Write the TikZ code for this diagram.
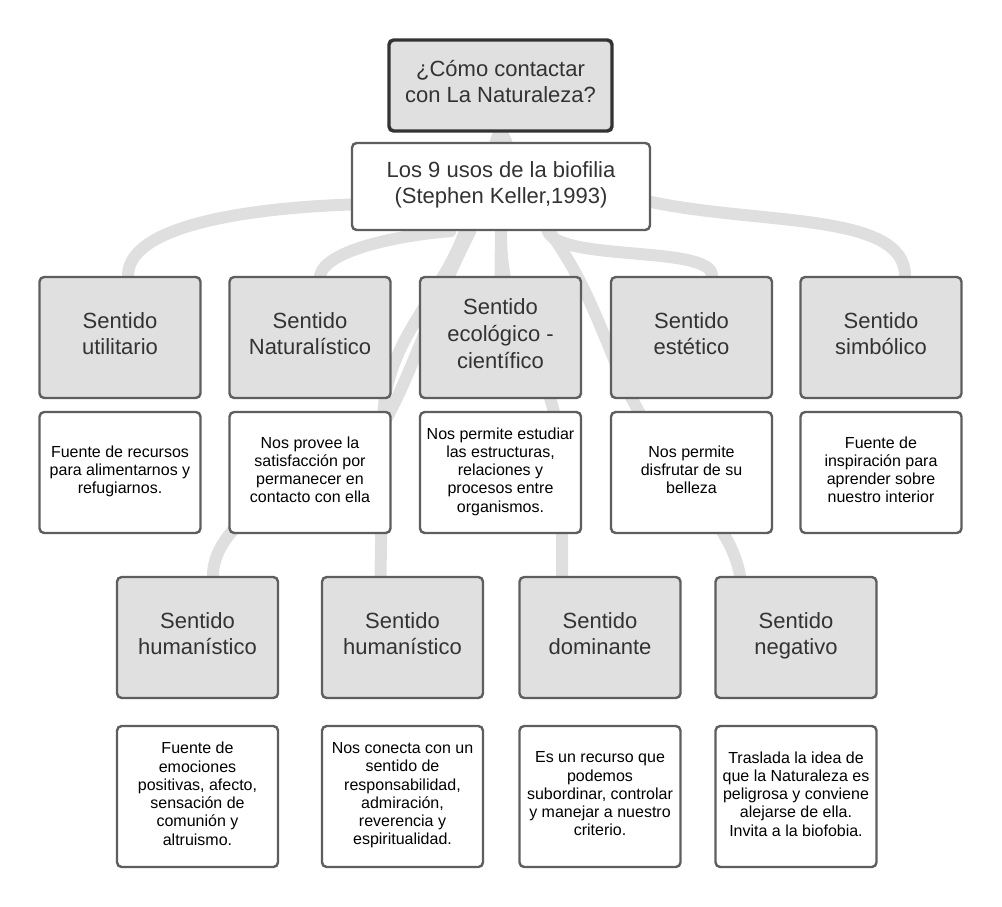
\documentclass[tikz,border=0pt]{standalone}
\usepackage{fontspec}
\setmainfont{Liberation Sans}
\usepackage{tikz}
\usetikzlibrary{backgrounds}
\definecolor{boxgray}{HTML}{E0E0E0}
\definecolor{linegray}{HTML}{DFDFDF}
\definecolor{edgegray}{HTML}{5E5E5E}
\definecolor{textgray}{HTML}{333333}
\tikzset{
  titlebox/.style={draw=edgegray, line width=1.8pt, rounded corners=3.5pt, fill=boxgray,
    minimum width=120.75pt, minimum height=90.75pt, align=center, text=textgray,
    font=\fontsize{16.5}{20}\selectfont,
    execute at begin node=\strut, execute at end node=\strut},
  descbox/.style={draw=edgegray, line width=1.8pt, rounded corners=3.5pt, fill=white,
    minimum width=120.75pt, minimum height=90.75pt, align=center, inner sep=2pt,
    font=\fontsize{12}{13.7}\selectfont,
    execute at begin node=\strut, execute at end node=\strut},
  link/.style={draw=linegray, line width=9pt, line cap=round}
}

\begin{document}
\begin{tikzpicture}[x=0.75pt,y=-0.75pt]
\useasboundingbox (0,0) rectangle (1002,906);

\node[titlebox, draw=textgray, line width=2.6pt, minimum width=167.25pt, minimum height=68.25pt] (top) at (500.5,85.5) {¿Cómo contactar\\con La Naturaleza?};
\node[titlebox, fill=white, minimum width=223.5pt, minimum height=65.25pt] (usos) at (501,186.5) {Los 9 usos de la biofilia\\(Stephen Keller,1993)};

\node[titlebox] (uti) at (120,337.5) {Sentido\\utilitario};
\node[titlebox] (nat) at (310,337.5) {Sentido\\Naturalístico};
\node[titlebox] (eco) at (500.5,337.5) {Sentido\\ecológico -\\científico};
\node[titlebox] (est) at (691.5,337.5) {Sentido\\estético};
\node[titlebox] (sim) at (881,337.5) {Sentido\\simbólico};

\node[descbox] (uti-d) at (120,472.5) {Fuente de recursos\\para alimentarnos y\\refugiarnos.};
\node[descbox] (nat-d) at (310,472.5) {Nos provee la\\satisfacción por\\permanecer en\\contacto con ella};
\node[descbox] (eco-d) at (500.5,472.5) {Nos permite estudiar\\las estructuras,\\relaciones y\\procesos entre\\organismos.};
\node[descbox] (est-d) at (691.5,472.5) {Nos permite\\disfrutar de su\\belleza};
\node[descbox] (sim-d) at (881,472.5) {Fuente de\\inspiración para\\aprender sobre\\nuestro interior};

\node[titlebox] (hum1) at (197.5,637.5) {Sentido\\humanístico};
\node[titlebox] (hum2) at (402.5,637.5) {Sentido\\humanístico};
\node[titlebox] (dom) at (600,637.5) {Sentido\\dominante};
\node[titlebox] (neg) at (796,637.5) {Sentido\\negativo};

\node[descbox, minimum height=105.75pt] (hum1-d) at (197.5,796.5) {Fuente de\\emociones\\positivas, afecto,\\sensación de\\comunión y\\altruismo.};
\node[descbox, minimum height=105.75pt] (hum2-d) at (402.5,796.5) {Nos conecta con un\\sentido de\\responsabilidad,\\admiración,\\reverencia y\\espiritualidad.};
\node[descbox, minimum height=105.75pt] (dom-d) at (600,796.5) {Es un recurso que\\podemos\\subordinar, controlar\\y manejar a nuestro\\criterio.};
\node[descbox, minimum height=105.75pt] (neg-d) at (796,796.5) {Traslada la idea de\\que la Naturaleza es\\peligrosa y conviene\\alejarse de ella.\\Invita a la biofobia.};

\begin{scope}[on background layer]
\draw[link] ([xshift=-1pt]top.south) -- ([xshift=-4pt]usos.north);
\draw[link] ([xshift=1pt]top.south) -- ([xshift=4pt]usos.north);
\draw[link] ([yshift=-13.5pt]usos.west) .. controls (250,208) and (128,225) .. ([xshift=6pt]uti.north);
\draw[link] ([xshift=-38pt]usos.south) .. controls (400,235) and (325,250) .. ([xshift=7.5pt]nat.north);
\draw[link] (usos.south) -- (eco.north);
\draw[link] ([xshift=35pt]usos.south) .. controls (560,262) and (712,245) .. ([xshift=15.4pt]est.north);
\draw[link] ([yshift=-11.6pt]usos.east) .. controls (760,225) and (905,212) .. ([xshift=18pt]sim.north);
\draw[link] ([xshift=-23pt]usos.south) .. controls (430,310) and (410,380) .. (380,430)
  .. controls (300,480) and (213,520) .. ([xshift=11.6pt]hum1.north);
\draw[link] ([xshift=-27pt]usos.south) .. controls (440,300) and (385,340) .. (383,420)
  -- ([xshift=-16.5pt]hum2.north);
\draw[link] (usos.south) .. controls (500,340) and (562,360) .. (562,480)
  -- ([xshift=-28.5pt]dom.north);
\draw[link] ([xshift=36pt]usos.south) .. controls (600,300) and (610,370) .. (650,430)
  .. controls (680,490) and (730,520) .. ([xshift=-42pt]neg.north);
\end{scope}
\end{tikzpicture}
\end{document}
